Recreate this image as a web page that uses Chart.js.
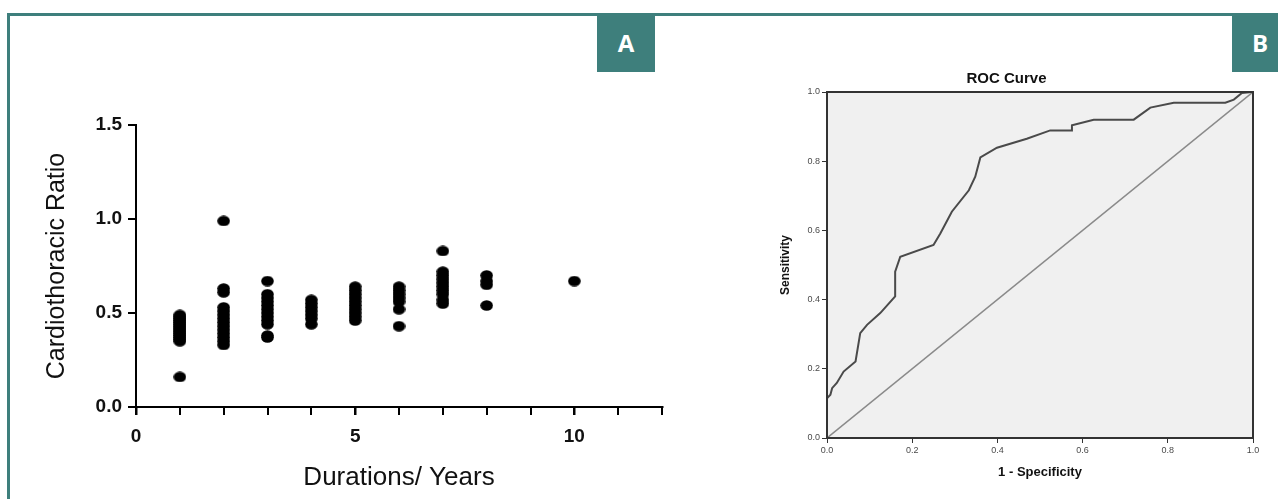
<!DOCTYPE html>
<html>
<head>
<meta charset="utf-8">
<script src="https://cdn.jsdelivr.net/npm/chart.js@4/dist/chart.umd.min.js"></script>
<style>
  html, body { margin: 0; padding: 0; background: #ffffff; }
  body { width: 1278px; height: 499px; position: relative; overflow: hidden; }
  #frame { position: absolute; left: 7px; top: 13px; width: 1300px; height: 520px; border: 3px solid #3e7f7c; box-sizing: border-box; }
  .tag { position: absolute; top: 13px; height: 59px; background: #3e7f7c; color: #ffffff;
         font-family: "Open Sans", "Liberation Sans", sans-serif; font-weight: 700; font-size: 24px;
         display: flex; align-items: center; justify-content: center; }
  #tagA { left: 597px; width: 58px; }
  #tagB { left: 1232px; width: 58px; justify-content: flex-start; padding-left: 20px; box-sizing: border-box; }
  #wrapA { position: absolute; left: 0; top: 0; width: 700px; height: 499px; }
  #wrapB { position: absolute; left: 760px; top: 0; width: 504px; height: 499px; }
</style>
</head>
<body>
<div id="frame"></div>
<div id="wrapA"><canvas id="chartA" width="700" height="499"></canvas></div>
<div id="wrapB"><canvas id="chartB" width="504" height="499"></canvas></div>
<div class="tag" id="tagA">A</div>
<div class="tag" id="tagB">B</div>
<script>
// ---------- Panel A data: cardiothoracic ratio by duration (years) ----------
const durations = [1, 2, 3, 4, 5, 6, 7, 8, 10];
const ctrYear1 = [0.49, 0.47, 0.45, 0.43, 0.41, 0.39, 0.37, 0.35, 0.48, 0.46, 0.44, 0.42, 0.40, 0.38, 0.36, 0.16];
const ctrYear2 = [0.99, 0.63, 0.61, 0.53, 0.51, 0.49, 0.47, 0.45, 0.43, 0.41, 0.39, 0.37, 0.35, 0.33];
const ctrYear3 = [0.67, 0.60, 0.58, 0.56, 0.54, 0.52, 0.50, 0.48, 0.46, 0.44, 0.38, 0.37];
const ctrYear4 = [0.57, 0.55, 0.53, 0.51, 0.49, 0.47, 0.44];
const ctrYear5 = [0.64, 0.62, 0.60, 0.58, 0.56, 0.54, 0.52, 0.50, 0.48, 0.46];
const ctrYear6 = [0.64, 0.62, 0.60, 0.58, 0.56, 0.52, 0.43];
const ctrYear7 = [0.83, 0.72, 0.70, 0.68, 0.66, 0.64, 0.62, 0.60, 0.57, 0.55];
const ctrYear8 = [0.70, 0.67, 0.65, 0.54];
const ctrYear10 = [0.67];
const ctrGroups = [ctrYear1, ctrYear2, ctrYear3, ctrYear4, ctrYear5, ctrYear6, ctrYear7, ctrYear8, ctrYear10];
const yTicksA = [0, 0.5, 1.0, 1.5];
const xLabelTicksA = [0, 5, 10];

// ---------- Panel B data: ROC curve ----------
const rocFpr = [0.000, 0.000, 0.008, 0.012, 0.023, 0.039, 0.067, 0.078, 0.094, 0.125, 0.160, 0.160, 0.172, 0.250, 0.266, 0.293, 0.333, 0.348, 0.360, 0.399, 0.469, 0.524, 0.575, 0.575, 0.626, 0.720, 0.759, 0.814, 0.935, 0.955, 0.974, 0.998, 1.000];
const rocTpr = [0.000, 0.115, 0.125, 0.144, 0.159, 0.192, 0.221, 0.303, 0.327, 0.361, 0.409, 0.481, 0.524, 0.558, 0.591, 0.654, 0.716, 0.755, 0.811, 0.839, 0.865, 0.889, 0.889, 0.904, 0.920, 0.920, 0.955, 0.969, 0.969, 0.978, 0.997, 1.000, 1.000];
const refX = [0, 1];
const refY = [0, 1];

// ---------- Panel A ----------
const pointsA = [];
durations.forEach((d, i) => ctrGroups[i].forEach(v => pointsA.push({ x: d, y: v })));

// slightly wide elliptical dot like the original marker
const dot = document.createElement('canvas');
dot.width = 13; dot.height = 11;
(function () {
  const c = dot.getContext('2d');
  c.fillStyle = '#000000';
  c.beginPath(); c.ellipse(6.5, 5.5, 6.3, 5.3, 0, 0, Math.PI * 2); c.fill();
})();

new Chart(document.getElementById('chartA'), {
  type: 'scatter',
  data: { datasets: [{ data: pointsA, pointStyle: dot, backgroundColor: '#000000', borderColor: '#000000', pointRadius: 5, pointHoverRadius: 5, borderWidth: 0 }] },
  options: {
    responsive: false, animation: false, events: [],
    layout: { padding: { left: 0, right: 38, top: 125, bottom: 0 } },
    plugins: { legend: { display: false }, tooltip: { enabled: false } },
    scales: {
      x: {
        type: 'linear', min: 0, max: 12,
        afterFit: s => { s.height = 92; },
        afterBuildTicks: s => { s.ticks = Array.from({ length: 13 }, (_, k) => ({ value: k })); },
        ticks: { autoSkip: false, maxRotation: 0, padding: 10, color: '#111111',
                 font: { family: 'Liberation Sans', size: 19, weight: 'bold' },
                 callback: v => xLabelTicksA.includes(v) ? String(v) : '' },
        grid: { display: true, drawOnChartArea: false, drawTicks: true, tickLength: 8, color: '#000000',
                lineWidth: ctx => (ctx.tick && xLabelTicksA.includes(ctx.tick.value)) ? 2.5 : 2 },
        border: { display: true, color: '#000000', width: 2 },
        title: { display: true, text: 'Durations/ Years', color: '#111111',
                 font: { family: 'Liberation Sans', size: 26 }, padding: { top: 0, bottom: 6 } }
      },
      y: {
        type: 'linear', min: 0, max: 1.5,
        afterFit: s => { s.width = 136; },
        afterBuildTicks: s => { s.ticks = yTicksA.map(v => ({ value: v })); },
        ticks: { padding: 6, color: '#111111',
                 font: { family: 'Liberation Sans', size: 19, weight: 'bold' },
                 callback: v => Number(v).toFixed(1) },
        grid: { display: true, drawOnChartArea: false, drawTicks: true, tickLength: 8, color: '#000000', lineWidth: 2 },
        border: { display: true, color: '#000000', width: 2 },
        title: { display: true, text: 'Cardiothoracic Ratio', color: '#111111',
                 font: { family: 'Liberation Sans', size: 25 }, padding: { top: 42, bottom: 0 } }
      }
    }
  }
});

// ---------- Panel B ----------
const plotFrame = {
  id: 'plotFrame',
  beforeDatasetsDraw(chart) {
    const a = chart.chartArea, c = chart.ctx;
    c.save(); c.fillStyle = '#f0f0f0'; c.fillRect(a.left, a.top, a.right - a.left, a.bottom - a.top); c.restore();
  },
  afterDatasetsDraw(chart) {
    const a = chart.chartArea, c = chart.ctx;
    c.save(); c.strokeStyle = '#333333'; c.lineWidth = 2;
    c.strokeRect(a.left, a.top, a.right - a.left, a.bottom - a.top); c.restore();
  }
};

new Chart(document.getElementById('chartB'), {
  type: 'scatter',
  data: {
    datasets: [
      { data: refX.map((x, i) => ({ x, y: refY[i] })), showLine: true, borderColor: '#8a8a8a', borderWidth: 1.5, pointRadius: 0, fill: false },
      { data: rocFpr.map((x, i) => ({ x, y: rocTpr[i] })), showLine: true, borderColor: '#4a4a4a', borderWidth: 2, pointRadius: 0, fill: false, tension: 0 }
    ]
  },
  plugins: [plotFrame],
  options: {
    responsive: false, animation: false, events: [],
    layout: { padding: { left: 0, right: 11, top: 0, bottom: 0 } },
    plugins: {
      legend: { display: false }, tooltip: { enabled: false },
      title: { display: true, text: 'ROC Curve', color: '#111111',
               font: { family: 'Liberation Sans', size: 15, weight: 'bold', lineHeight: 1.2 },
               padding: { top: 70, bottom: 4 } }
    },
    scales: {
      x: {
        type: 'linear', min: 0, max: 1,
        afterFit: s => { s.height = 61; },
        ticks: { stepSize: 0.2, padding: 2, color: '#4a4a4a', autoSkip: false, maxRotation: 0,
                 font: { family: 'Liberation Sans', size: 9 },
                 callback: v => Number(v).toFixed(1) },
        grid: { display: true, drawOnChartArea: false, drawTicks: true, tickLength: 5, color: '#333333', lineWidth: 1 },
        border: { display: true, color: '#333333', width: 2 },
        title: { display: true, text: '1 - Specificity', color: '#111111',
                 font: { family: 'Liberation Sans', size: 13, weight: 'bold' }, padding: { top: 0, bottom: 19 } }
      },
      y: {
        type: 'linear', min: 0, max: 1,
        afterFit: s => { s.width = 67; },
        ticks: { stepSize: 0.2, padding: 2, color: '#4a4a4a',
                 font: { family: 'Liberation Sans', size: 9 },
                 callback: v => Number(v).toFixed(1) },
        grid: { display: true, drawOnChartArea: false, drawTicks: true, tickLength: 5, color: '#333333', lineWidth: 1 },
        border: { display: true, color: '#333333', width: 2 },
        title: { display: true, text: 'Sensitivity', color: '#111111',
                 font: { family: 'Liberation Sans', size: 12, weight: 'bold' }, padding: { top: 18, bottom: 0 } }
      }
    }
  }
});
</script>
</body>
</html>
